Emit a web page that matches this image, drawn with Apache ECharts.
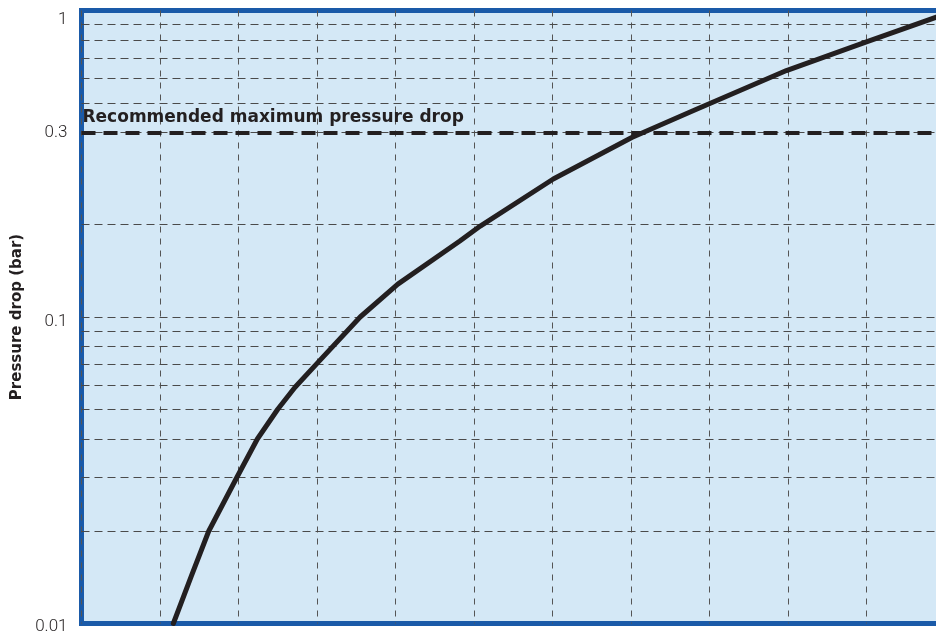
<!DOCTYPE html>
<html><head><meta charset="utf-8">
<script src="https://cdn.jsdelivr.net/npm/echarts@6/dist/echarts.min.js"></script>
<style>html,body{margin:0;padding:0;background:#fff}#c{width:936px;height:637px}</style>
</head><body><div id="c"></div>
<script>
// Curve (flow in grid units, pressure drop in bar)
const flowX = [1.17, 1.40, 1.62, 1.98, 2.24, 2.50, 2.72, 3.01, 3.55, 4.03, 4.82, 5.08, 6.01, 7.01, 7.79, 8.98, 9.99, 10.89];
const pressureDrop = [0.010, 0.0143, 0.020, 0.030, 0.040, 0.050, 0.059, 0.071, 0.100, 0.128, 0.177, 0.198, 0.282, 0.385, 0.471, 0.637, 0.788, 0.951];
// Horizontal grid lines as drawn in the reference
const yGridValues = [0.02, 0.03, 0.04, 0.05, 0.06, 0.07, 0.08, 0.09, 0.1, 0.2, 0.4, 0.5, 0.6, 0.7, 0.8, 0.9];
// Threshold line: position, text as printed
const thresholdLevel = 0.4;
const thresholdTick = '0.3';
const thresholdText = 'Recommended maximum pressure drop';
const yAxisTitle = 'Pressure drop (bar)';
const xMin = 0, xMax = 11, xStep = 1;

const ink = '#231f20';
const tickFont = {fontFamily: 'Roboto', fontWeight: 300, fontSize: 17, color: ink};
const chart = echarts.init(document.getElementById('c'), null, {renderer: 'canvas'});
chart.setOption({
  animation: false,
  grid: {
    left: 81.5, top: 10.5, width: 863.5, height: 613,
    show: true, backgroundColor: '#d4e8f6', borderColor: '#1a5aa8', borderWidth: 5,
    containLabel: false, outerBoundsMode: 'none'
  },
  xAxis: {
    type: 'value', min: xMin, max: xMax, interval: xStep,
    axisLine: {show: false}, axisTick: {show: false}, axisLabel: {show: false},
    splitLine: {show: true, lineStyle: {color: '#555', width: 1, type: [6, 6]}}
  },
  yAxis: {
    type: 'log', logBase: 10, min: 0.01, max: 1,
    axisLine: {show: false}, axisTick: {show: false},
    splitLine: {show: false},
    name: yAxisTitle, nameLocation: 'middle', nameGap: 56,
    nameTextStyle: {fontFamily: 'DejaVu Sans', fontWeight: 'bold', fontSize: 15, color: ink},
    axisLabel: Object.assign({
      show: true, showMinLabel: true, showMaxLabel: true, margin: 14,
      formatter: function (v) {
        const e = Math.round(Math.log10(v));
        if (e === 0) return '{t|1}';
        if (e === -1) return '{m|0.1}';
        return '{b|0.01}';
      },
      rich: {
        t: Object.assign({padding: [18, 0, 0, 0]}, tickFont),
        m: Object.assign({padding: [10, 0, 0, 0]}, tickFont),
        b: Object.assign({padding: [6, 0, 0, 0]}, tickFont)
      }
    }, tickFont)
  },
  series: [
    {
      type: 'line', data: [], clip: false, silent: true,
      markLine: {
        silent: true, symbol: 'none', animation: false,
        lineStyle: {color: '#4a4a4a', width: 1, type: [8, 5]},
        data: yGridValues.map(v => v === thresholdLevel
          ? {yAxis: v, label: Object.assign({show: true, position: 'start', formatter: thresholdTick, distance: 14}, tickFont)}
          : {yAxis: v, label: {show: false}})
      }
    },
    {
      type: 'line', data: [], clip: false, silent: true, z: 4,
      markLine: {
        silent: true, symbol: 'none', animation: false,
        lineStyle: {color: ink, width: 4, type: [14, 8]},
        data: [
          {yAxis: thresholdLevel,
            label: {show: true, position: 'insideStartTop', formatter: thresholdText, distance: [1, 6],
              fontFamily: 'DejaVu Sans', fontWeight: 'bold', fontSize: 17, color: ink}}
        ]
      }
    },
    {
      type: 'line', z: 5, smooth: false, symbol: 'none', clip: true,
      lineStyle: {color: ink, width: 5, join: 'round', cap: 'round'},
      data: flowX.map((x, i) => [x, pressureDrop[i]])
    }
  ]
});
</script></body></html>
